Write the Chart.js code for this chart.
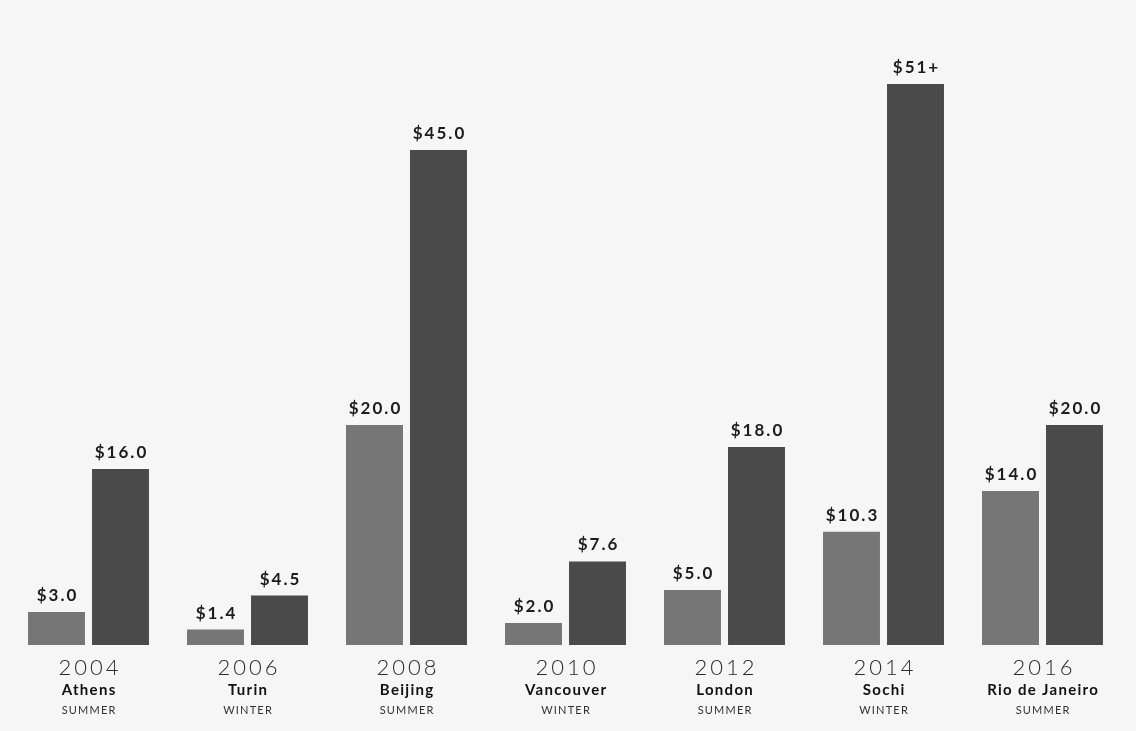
<!DOCTYPE html>
<html>
<head>
<meta charset="utf-8">
<script src="https://cdn.jsdelivr.net/npm/chart.js@4"></script>
<style>
  html, body { margin: 0; padding: 0; background: #f6f6f6; }
  #wrap { width: 1136px; height: 731px; }
</style>
</head>
<body>
<div id="wrap"><canvas id="chart"></canvas></div>
<script>
const years = ['2004', '2006', '2008', '2010', '2012', '2014', '2016'];
const cities = ['Athens', 'Turin', 'Beijing', 'Vancouver', 'London', 'Sochi', 'Rio de Janeiro'];
const seasons = ['SUMMER', 'WINTER', 'SUMMER', 'WINTER', 'SUMMER', 'WINTER', 'SUMMER'];
const lightValues = [3.0, 1.4, 20.0, 2.0, 5.0, 10.3, 14.0];
const darkValues = [16.0, 4.5, 45.0, 7.6, 18.0, 51, 20.0];
const lightLabels = ['$3.0', '$1.4', '$20.0', '$2.0', '$5.0', '$10.3', '$14.0'];
const darkLabels = ['$16.0', '$4.5', '$45.0', '$7.6', '$18.0', '$51+', '$20.0'];

// centered text with letter spacing (spacing adds a trailing gap, so shift by half)
function spaced(ctx, text, x, y, font, color, sp) {
    ctx.font = font;
    ctx.fillStyle = color;
    ctx.letterSpacing = sp + 'px';
    ctx.fillText(text, x + sp / 2, y);
}

const labelPlugin = {
    id: 'labels',
    afterDatasetsDraw(chart) {
        const ctx = chart.ctx;
        const x = chart.scales.x;
        const bottom = chart.chartArea.bottom;
        const texts = [lightLabels, darkLabels];
        ctx.save();
        ctx.textAlign = 'center';
        ctx.textBaseline = 'alphabetic';
        chart.data.datasets.forEach((ds, i) => {
            chart.getDatasetMeta(i).data.forEach((bar, j) => {
                spaced(ctx, texts[i][j], bar.x, bar.y - 11, 'bold 17px Lato', '#1c1c1c', 2);
            });
        });
        years.forEach((y, j) => {
            const cx = x.getPixelForValue(j);
            spaced(ctx, y, cx, bottom + 30, '300 22px Lato', '#2a2a2a', 3);
            spaced(ctx, cities[j], cx, bottom + 50, 'bold 15px Lato', '#111', 1.3);
            spaced(ctx, seasons[j], cx, bottom + 69, '11px Lato', '#333', 1.2);
        });
        ctx.restore();
    }
};

new Chart(document.getElementById('chart'), {
    type: 'bar',
    data: {
        labels: years,
        datasets: [
            { data: lightValues, backgroundColor: '#767676' },
            { data: darkValues, backgroundColor: '#4a4a4a' }
        ]
    },
    options: {
        responsive: true, maintainAspectRatio: false, animation: false,
        layout: { padding: { top: 40, bottom: 86, left: 9, right: 14 } },
        datasets: { bar: { categoryPercentage: 0.805, barPercentage: 0.89 } },
        scales: {
            x: { display: false },
            y: { display: false, min: 0, max: 55 }
        },
        plugins: { legend: { display: false }, tooltip: { enabled: false } }
    },
    plugins: [labelPlugin]
});
</script>
</body>
</html>
